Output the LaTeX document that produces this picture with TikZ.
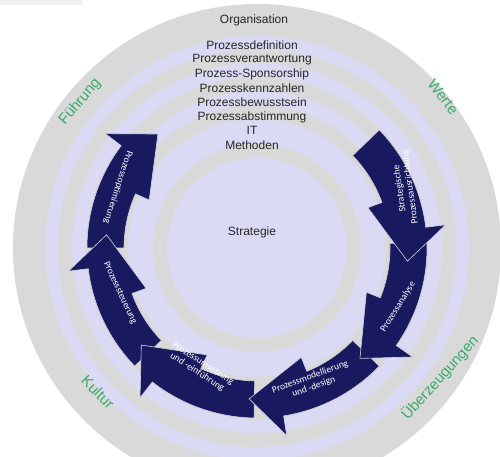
\documentclass[tikz,border=0pt]{standalone}
\usepackage{fontspec}
\setmainfont{Liberation Sans}
\newfontfamily\arrowfont{Carlito}
\definecolor{ringgray}{RGB}{217,217,217}
\definecolor{ringlav}{RGB}{218,218,244}
\definecolor{arrownavy}{RGB}{25,25,95}
\definecolor{labelgreen}{RGB}{60,170,110}
\tikzset{
  cyclearrow/.style={fill=arrownavy, draw=white!80!arrownavy, line width=0.6pt, line join=miter},
  arrowtext/.style={text=white, font=\arrowfont\fontsize{9.5}{10.5}\selectfont, align=center, inner sep=0pt},
  listtext/.style={text=black!85, font=\fontsize{12}{14}\selectfont, inner sep=0pt},
  ringlabel/.style={text=labelgreen, font=\fontsize{15}{17}\selectfont, inner sep=0pt}
}
\begin{document}
\begin{tikzpicture}[x=1pt,y=1pt]
\useasboundingbox (-257,-209) rectangle (243,248);
\clip (-257,-209) rectangle (243,248);
\fill[black!6] (-257,248) rectangle (-175,243);
% rings
\fill[ringgray] (0,0) circle[radius=244];
\fill[ringlav] (0,0) circle[radius=212];
\fill[ringgray] (0,0) circle[radius=199];
\fill[ringlav] (0,0) circle[radius=185];
\fill[ringgray] (0,0) circle[radius=171];
\fill[ringlav] (0,0) circle[radius=157];
\fill[ringgray] (0,0) circle[radius=143];
\fill[ringlav] (0,0) circle[radius=129];
\fill[ringgray] (0,0) circle[radius=104];
\fill[ringlav] (0,0) circle[radius=90];
% arrows, last one first
\draw[cyclearrow] (180:170) arc[start angle=180, end angle=143, radius=170] -- (143:190) -- (131:151) -- (156:118) -- (156:133) arc[start angle=156, end angle=180, radius=133] -- cycle;
\draw[cyclearrow] (224:170) arc[start angle=224, end angle=187, radius=170] -- (187:190) -- (175:151) -- (200:118) -- (200:133) arc[start angle=200, end angle=224, radius=133] -- cycle;
\draw[cyclearrow] (269:170) arc[start angle=269, end angle=232, radius=170] -- (232:190) -- (220:151) -- (245:118) -- (245:133) arc[start angle=245, end angle=269, radius=133] -- cycle;
\draw[cyclearrow] (316:170) arc[start angle=316, end angle=279, radius=170] -- (279:190) -- (267:151) -- (292:118) -- (292:133) arc[start angle=292, end angle=316, radius=133] -- cycle;
\draw[cyclearrow] (2:170) arc[start angle=2, end angle=-35, radius=170] -- (-35:190) -- (-47:151) -- (-22:118) -- (-22:133) arc[start angle=-22, end angle=2, radius=133] -- cycle;
\draw[cyclearrow] (44:170) arc[start angle=44, end angle=7, radius=170] -- (7:190) -- (-5:151) -- (20:118) -- (20:133) arc[start angle=20, end angle=44, radius=133] -- cycle;
% texts
\node[listtext] (org) at (-3,228) {Organisation};
\node[listtext] (def) at (-5,203) {Prozessdefinition};
\node[listtext] (verant) at (-5,188) {Prozessverantwortung};
\node[listtext] (sponsor) at (-5,174) {Prozess-Sponsorship};
\node[listtext] (kennz) at (-5,160) {Prozesskennzahlen};
\node[listtext] (bewusst) at (-5,146) {Prozessbewusstsein};
\node[listtext] (abst) at (-5,131) {Prozessabstimmung};
\node[listtext] (it) at (-5,118) {IT};
\node[listtext] (meth) at (-5,103) {Methoden};
\node[listtext] (strat) at (-5,16) {Strategie};
\node[ringlabel, rotate=50] (fuehrung) at (-177,146) {Führung};
\node[ringlabel, rotate=-52] (werte) at (186,151) {Werte};
\node[ringlabel, rotate=-45] (kultur) at (-159,-144) {Kultur};
\node[ringlabel, rotate=48] (ueberz) at (183,-130) {Überzeugungen};
\node[arrowtext, rotate=-108] (optim) at (-139,61) {Prozessoptimierung};
\node[arrowtext, rotate=98] (ausricht) at (148,60) {Strategische\\Prozessausrichtung};
\node[arrowtext, rotate=58] (analyse) at (141,-59) {Prozessanalyse};
\node[arrowtext, rotate=20] (modell) at (55,-134) {Prozessmodellierung\\und -design};
\node[arrowtext, rotate=-33] (umsetz) at (-57,-120) {Prozessumsetzung\\und -einführung};
\node[arrowtext, rotate=-65] (steuer) at (-137,-45) {Prozesssteuerung};
\end{tikzpicture}
\end{document}
